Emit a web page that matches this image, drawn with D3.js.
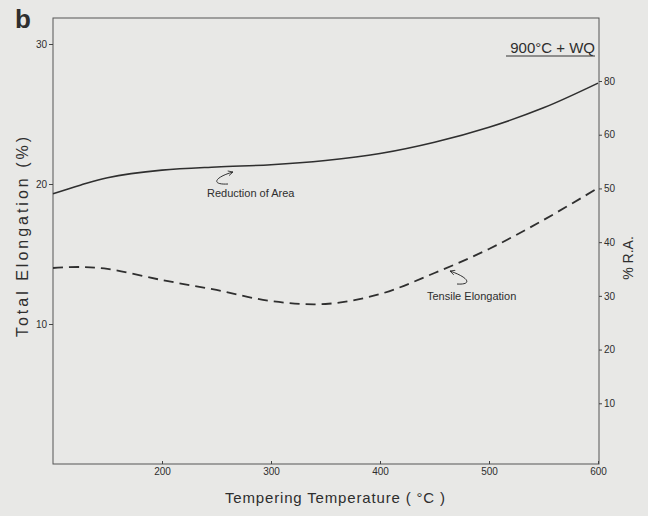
<!DOCTYPE html>
<html>
<head>
<meta charset="utf-8">
<script src="https://cdn.jsdelivr.net/npm/d3@7"></script>
<style>
  html, body { margin: 0; padding: 0; background: #e8e8e6; }
  svg { display: block; }
  text { font-family: "Liberation Sans", Arial, sans-serif; fill: #2e2e2e; }
</style>
</head>
<body>
<svg id="chart" width="648" height="516"></svg>
<script>
// Tempering temperature (°C)
const temperatures = [100, 125, 150, 200, 250, 300, 350, 400, 450, 500, 550, 600];
// Reduction of area (% R.A., right axis)
const reductionOfArea = [49.0, 50.6, 52.0, 53.4, 54.0, 54.4, 55.2, 56.5, 58.6, 61.4, 65.0, 69.6];
// Tensile (total) elongation (%, left axis)
const tensileElongation = [14.0, 14.07, 13.93, 13.14, 12.43, 11.64, 11.43, 12.14, 13.64, 15.36, 17.43, 19.71];

// Axis ticks
const xTickValues = [200, 300, 400, 500, 600];
const leftTickValues = [10, 20, 30];
const rightTickValues = [10, 20, 30, 40, 50, 60, 70];
const rightTickLabels = ["10", "20", "30", "40", "50", "60", "80"];

const svg = d3.select("#chart");
const ink = "#2f2f2f";

const frame = { left: 53, right: 599, top: 18, bottom: 464 };

const x = d3.scaleLinear().domain([100, 600]).range([53, 598]);
const yL = d3.scaleLinear().domain([0, 30]).range([464, 44]);
const yR = d3.scaleLinear().domain([0, 70]).range([457, 81]);

// plot frame
svg.append("rect")
  .attr("x", frame.left).attr("y", frame.top)
  .attr("width", frame.right - frame.left)
  .attr("height", frame.bottom - frame.top)
  .attr("fill", "none")
  .attr("stroke", "#555")
  .attr("stroke-width", 1);

// axes
const styleAxis = g => {
  g.select(".domain").remove();
  g.selectAll("line").attr("stroke", "#444");
  g.selectAll("text").attr("font-size", 10).attr("fill", "#3a3a3a")
    .attr("font-family", "'Liberation Sans', Arial, sans-serif");
};

svg.append("g")
  .attr("transform", `translate(0,${frame.bottom})`)
  .call(d3.axisBottom(x).tickValues(xTickValues).tickSizeInner(-3).tickSizeOuter(0).tickPadding(4))
  .call(styleAxis);

svg.append("g")
  .attr("transform", `translate(${frame.left},0)`)
  .call(d3.axisLeft(yL).tickValues(leftTickValues).tickSize(4).tickPadding(2))
  .call(styleAxis);

svg.append("g")
  .attr("transform", `translate(${frame.right},0)`)
  .call(d3.axisRight(yR).tickValues(rightTickValues).tickSize(3).tickPadding(2)
    .tickFormat((d, i) => rightTickLabels[i]))
  .call(styleAxis);

// curves
const raLine = d3.line()
  .x((d, i) => x(temperatures[i]))
  .y(d => yR(d))
  .curve(d3.curveCatmullRom.alpha(0.5));

const elLine = d3.line()
  .x((d, i) => x(temperatures[i]))
  .y(d => yL(d))
  .curve(d3.curveCatmullRom.alpha(0.5));

svg.append("path")
  .datum(reductionOfArea)
  .attr("d", raLine)
  .attr("fill", "none")
  .attr("stroke", ink)
  .attr("stroke-width", 1.6);

svg.append("path")
  .datum(tensileElongation)
  .attr("d", elLine)
  .attr("fill", "none")
  .attr("stroke", ink)
  .attr("stroke-width", 1.8)
  .attr("stroke-dasharray", "10,6");

// arrowhead marker for the curve labels
svg.append("defs").append("marker")
  .attr("id", "arrow")
  .attr("viewBox", "0 0 10 10")
  .attr("refX", 9).attr("refY", 5)
  .attr("markerWidth", 6).attr("markerHeight", 6)
  .attr("orient", "auto")
  .append("path")
  .attr("d", "M1,1 L9,5 L1,9")
  .attr("fill", "none")
  .attr("stroke", "#333")
  .attr("stroke-width", 1.4);

svg.append("path")
  .attr("d", "M228,184 C210,185 215,177 233,172")
  .attr("fill", "none").attr("stroke", "#333").attr("stroke-width", 1)
  .attr("marker-end", "url(#arrow)");

svg.append("path")
  .attr("d", "M457,284 C472,285 470,278 450,271")
  .attr("fill", "none").attr("stroke", "#333").attr("stroke-width", 1)
  .attr("marker-end", "url(#arrow)");

svg.append("text")
  .attr("x", 207).attr("y", 197)
  .attr("font-size", 11)
  .text("Reduction of Area");

svg.append("text")
  .attr("x", 427).attr("y", 300)
  .attr("font-size", 11)
  .text("Tensile Elongation");

// condition label, underlined
svg.append("text")
  .attr("x", 595).attr("y", 53)
  .attr("text-anchor", "end")
  .attr("font-size", 15)
  .text("900°C + WQ");
svg.append("line")
  .attr("x1", 506).attr("x2", 595)
  .attr("y1", 56).attr("y2", 56)
  .attr("stroke", "#333").attr("stroke-width", 1);

// axis titles
svg.append("text")
  .attr("x", 335).attr("y", 503)
  .attr("text-anchor", "middle")
  .attr("font-size", 15)
  .attr("textLength", 220)
  .attr("lengthAdjust", "spacing")
  .text("Tempering Temperature ( °C )");

svg.append("text")
  .attr("transform", "translate(28,237) rotate(-90)")
  .attr("text-anchor", "middle")
  .attr("font-size", 16)
  .attr("textLength", 200)
  .attr("lengthAdjust", "spacing")
  .text("Total Elongation (%)");

svg.append("text")
  .attr("transform", "translate(633,258) rotate(-90)")
  .attr("text-anchor", "middle")
  .attr("font-size", 14)
  .text("% R.A.");

// panel letter
svg.append("text")
  .attr("x", 15).attr("y", 28)
  .attr("font-size", 26)
  .attr("font-weight", "bold")
  .text("b");
</script>
</body>
</html>
